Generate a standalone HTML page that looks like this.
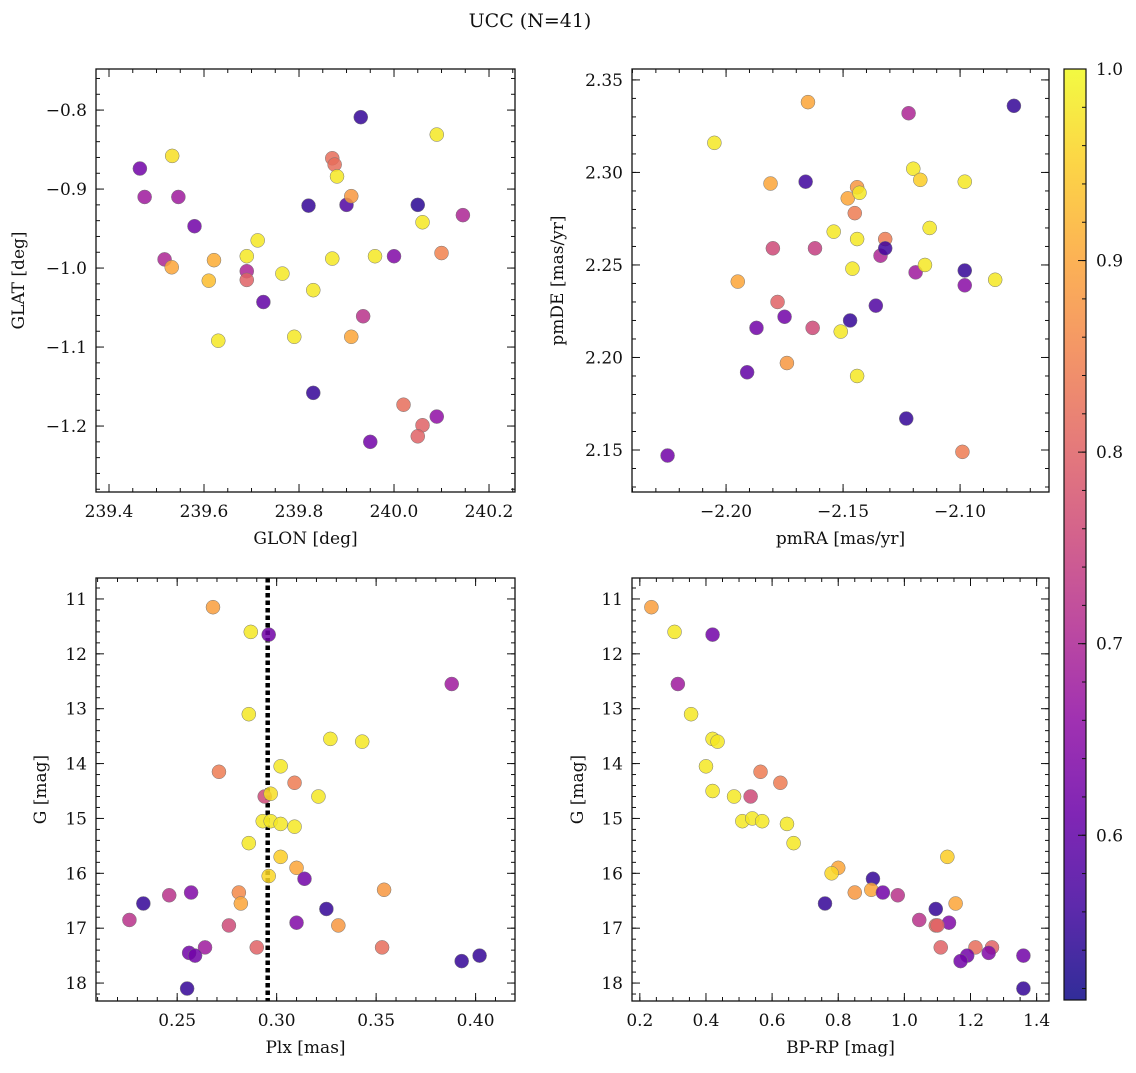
<!DOCTYPE html>
<html><head><meta charset="utf-8">
<style>
body{margin:0;background:#fff;}
svg text{font-family:"DejaVu Serif","Liberation Serif",serif;fill:#111;}
</style></head>
<body>
<svg id="fig" width="1136" height="1068" viewBox="0 0 1136 1068" xmlns="http://www.w3.org/2000/svg">
<text x="530" y="27" font-size="19" text-anchor="middle">UCC (N=41)</text>
</svg>
<script>
// Panel 1: GLON / GLAT
const glon = [239.465,239.475,239.533,239.546,239.58,239.517,239.532,239.621,239.61,239.713,239.69,239.69,239.69,239.63,239.725,239.765,239.79,239.82,239.83,239.83,239.87,239.875,239.88,239.87,239.93,239.9,239.91,239.91,239.935,239.96,239.95,240.0,240.05,240.06,240.09,240.145,240.1,240.02,240.06,240.05,240.09];
const glat = [-0.874,-0.910,-0.858,-0.910,-0.947,-0.989,-0.999,-0.990,-1.016,-0.965,-0.985,-1.004,-1.015,-1.092,-1.043,-1.007,-1.087,-0.921,-1.028,-1.158,-0.861,-0.869,-0.884,-0.988,-0.809,-0.920,-0.909,-1.087,-1.061,-0.985,-1.220,-0.985,-0.920,-0.942,-0.831,-0.933,-0.981,-1.173,-1.199,-1.213,-1.188];
const prob1 = [0.62,0.68,0.97,0.68,0.62,0.70,0.90,0.91,0.93,0.98,0.98,0.70,0.80,0.98,0.60,0.98,0.98,0.55,0.98,0.55,0.82,0.82,0.98,0.98,0.55,0.58,0.88,0.90,0.72,0.98,0.62,0.64,0.54,0.98,0.98,0.70,0.85,0.82,0.80,0.80,0.66];
// Panel 2: pmRA / pmDE
const pmra = [-2.225,-2.205,-2.195,-2.181,-2.180,-2.178,-2.175,-2.187,-2.191,-2.174,-2.163,-2.162,-2.166,-2.165,-2.154,-2.151,-2.148,-2.147,-2.146,-2.145,-2.144,-2.144,-2.143,-2.144,-2.136,-2.134,-2.132,-2.132,-2.122,-2.120,-2.119,-2.117,-2.115,-2.113,-2.123,-2.098,-2.098,-2.098,-2.099,-2.085,-2.077];
const pmde = [2.147,2.316,2.241,2.294,2.259,2.230,2.222,2.216,2.192,2.197,2.216,2.259,2.295,2.338,2.268,2.214,2.286,2.220,2.248,2.278,2.264,2.292,2.289,2.190,2.228,2.255,2.264,2.259,2.332,2.302,2.246,2.296,2.250,2.270,2.167,2.295,2.247,2.239,2.149,2.242,2.336];
const prob2 = [0.62,0.98,0.90,0.90,0.76,0.80,0.62,0.62,0.60,0.88,0.76,0.74,0.56,0.90,0.98,0.98,0.90,0.55,0.98,0.84,0.98,0.88,0.98,0.98,0.58,0.70,0.84,0.56,0.70,0.98,0.68,0.95,0.98,0.98,0.55,0.98,0.55,0.65,0.84,0.98,0.55];
// Panel 3: Plx / G
const plx = [0.268,0.287,0.296,0.388,0.286,0.327,0.343,0.302,0.271,0.309,0.294,0.297,0.321,0.293,0.297,0.302,0.309,0.286,0.302,0.310,0.296,0.314,0.354,0.257,0.246,0.281,0.282,0.233,0.325,0.226,0.310,0.331,0.276,0.264,0.290,0.353,0.256,0.259,0.393,0.402,0.255];
const gmag3 = [11.15,11.6,11.65,12.55,13.1,13.55,13.6,14.05,14.15,14.35,14.6,14.55,14.6,15.05,15.05,15.1,15.15,15.45,15.7,15.9,16.05,16.1,16.3,16.35,16.4,16.35,16.55,16.55,16.65,16.85,16.9,16.95,16.95,17.35,17.35,17.35,17.45,17.5,17.6,17.5,18.1];
const prob3 = [0.89,0.98,0.62,0.68,0.98,0.98,0.98,0.98,0.84,0.84,0.76,0.97,0.98,0.98,0.98,0.98,0.98,0.98,0.95,0.90,0.96,0.62,0.88,0.64,0.72,0.86,0.90,0.55,0.55,0.72,0.64,0.88,0.76,0.68,0.80,0.82,0.62,0.62,0.55,0.55,0.55];
// Panel 4: BP-RP / G
const bprp = [0.235,0.305,0.42,0.315,0.355,0.42,0.435,0.40,0.42,0.565,0.625,0.485,0.535,0.51,0.54,0.57,0.645,0.665,0.80,0.78,0.905,0.85,0.90,0.935,0.98,0.76,1.095,1.13,1.155,1.045,1.135,1.095,1.10,1.11,1.215,1.265,1.255,1.19,1.17,1.36,1.36];
const gmag4 = [11.15,11.6,11.65,12.55,13.1,13.55,13.6,14.05,14.5,14.15,14.35,14.6,14.6,15.05,15.0,15.05,15.1,15.45,15.9,16.0,16.1,16.35,16.3,16.35,16.4,16.55,16.65,15.7,16.55,16.85,16.9,16.95,16.95,17.35,17.35,17.35,17.45,17.5,17.6,17.5,18.1];
const prob4 = [0.89,0.98,0.62,0.68,0.98,0.98,0.98,0.98,0.98,0.84,0.84,0.98,0.76,0.98,0.98,0.98,0.98,0.98,0.90,0.96,0.55,0.88,0.90,0.62,0.72,0.55,0.55,0.95,0.90,0.72,0.64,0.82,0.80,0.80,0.82,0.80,0.64,0.62,0.62,0.62,0.55];
const cbTicks = [0.6,0.7,0.8,0.9,1.0];

const NS='http://www.w3.org/2000/svg';
const svg=document.getElementById('fig');
function el(tag,attrs,parent){const e=document.createElementNS(NS,tag);for(const k in attrs)e.setAttribute(k,attrs[k]);(parent||svg).appendChild(e);return e;}
const stops=['#0d0887','#41049d','#6a00a8','#8f0da4','#b12a90','#cc4778','#e16462','#f2844b','#fca636','#fcce25','#f0f921'];
function hex(h){return [1,3,5].map(i=>parseInt(h.substr(i,2),16));}
const VMIN=0.514,VMAX=1.0;
function plasma(v){let t=(v-VMIN)/(VMAX-VMIN);t=Math.max(0,Math.min(1,t));const f=t*10,i=Math.min(9,Math.floor(f)),r=f-i;const a=hex(stops[i]),b=hex(stops[i+1]);return 'rgb('+a.map((c,j)=>Math.round(c+(b[j]-c)*r)).join(',')+')';}
function fmt(v,d){const s=Math.abs(v).toFixed(d);return (v<-1e-9?'\u2212':'')+s;}

function panel(o){
  const {name,x0,x1,y0,y1,xmin,xmax,ymin,ymax,xs,ys,cs,xMaj,xMin,yMaj,yMin,xd,yd,xlabel,ylabel,ylabX}=o;
  const g=el('g',{});
  
  
  const X=v=>x0+(v-xmin)/(xmax-xmin)*(x1-x0);
  const Y=v=>y0+(v-ymax)/(ymin-ymax)*(y1-y0);
  const ticks=el('g',{stroke:'#111','stroke-width':1},g);
  
  
  function seq(step,a,b){const lo=Math.min(a,b),hi=Math.max(a,b);const r=[];let s=Math.ceil(lo/step-1e-6);for(let k=s;k*step<=hi+1e-9;k++)r.push(+(k*step).toFixed(6));return r;}
  seq(xMin,xmin,xmax).forEach(v=>{const x=X(v);el('line',{x1:x,x2:x,y1:y1,y2:y1-4},ticks);el('line',{x1:x,x2:x,y1:y0,y2:y0+4},ticks);});
  seq(yMin,ymin,ymax).forEach(v=>{const y=Y(v);el('line',{x1:x0,x2:x0+4,y1:y,y2:y},ticks);el('line',{x1:x1,x2:x1-4,y1:y,y2:y},ticks);});
  seq(xMaj,xmin,xmax).forEach(v=>{const x=X(v);el('line',{x1:x,x2:x,y1:y1,y2:y1-8},ticks);el('line',{x1:x,x2:x,y1:y0,y2:y0+8},ticks);
    const t=el('text',{x:x,y:y1+25,'font-size':17,'text-anchor':'middle'},g);t.textContent=fmt(v,xd);
    
    });
  seq(yMaj,ymin,ymax).forEach(v=>{const y=Y(v);el('line',{x1:x0,x2:x0+8,y1:y,y2:y},ticks);el('line',{x1:x1,x2:x1-8,y1:y,y2:y},ticks);
    const t=el('text',{x:x0-9,y:y+6,'font-size':17,'text-anchor':'end'},g);t.textContent=fmt(v,yd);
    
    });
  if(o.vline!==undefined){const l=el('line',{x1:X(o.vline),x2:X(o.vline),y1:y0,y2:y1,stroke:'#000','stroke-width':4.5,'stroke-dasharray':'4.5 3'},g);
    
    }
  xs.forEach((v,i)=>{const c=el('circle',{cx:X(v),cy:Y(ys[i]),r:7,fill:plasma(cs[i]),'fill-opacity':0.85,stroke:'#777','stroke-width':0.5},g);
    
    });
  el('rect',{x:x0,y:y0,width:x1-x0,height:y1-y0,fill:'none',stroke:'#111','stroke-width':1.3},g);
  const xl=el('text',{x:(x0+x1)/2,y:y1+52,'font-size':17,'text-anchor':'middle'},g);xl.textContent=xlabel;
  
  
  const yc=(y0+y1)/2;
  const yl=el('text',{x:ylabX,y:yc,'font-size':17,'text-anchor':'middle',transform:`rotate(-90 ${ylabX} ${yc})`},g);yl.textContent=ylabel;
  
  
}
panel({name:'panel-glon-glat',x0:96,x1:515,y0:69,y1:492,xmin:239.3726,xmax:240.2547,ymin:-1.2835,ymax:-0.748,xs:glon,ys:glat,cs:prob1,xMaj:0.2,xMin:0.05,yMaj:0.1,yMin:0.02,xd:1,yd:1,xlabel:'GLON [deg]',ylabel:'GLAT [deg]',ylabX:24});
panel({name:'panel-pm',x0:632,x1:1049,y0:69,y1:492,xmin:-2.2402,xmax:-2.062,ymin:2.1273,ymax:2.3559,xs:pmra,ys:pmde,cs:prob2,xMaj:0.05,xMin:0.01,yMaj:0.05,yMin:0.01,xd:2,yd:2,xlabel:'pmRA [mas/yr]',ylabel:'pmDE [mas/yr]',ylabX:563});
panel({name:'panel-plx-g',x0:96,x1:515,y0:578,y1:1001,xmin:0.2092,xmax:0.4198,ymin:18.327,ymax:10.618,xs:plx,ys:gmag3,cs:prob3,xMaj:0.05,xMin:0.01,yMaj:1,yMin:0.2,xd:2,yd:0,xlabel:'Plx [mas]',ylabel:'G [mag]',ylabX:46,vline:0.2955});
panel({name:'panel-cmd',x0:632,x1:1049,y0:578,y1:1001,xmin:0.1763,xmax:1.4374,ymin:18.327,ymax:10.618,xs:bprp,ys:gmag4,cs:prob4,xMaj:0.2,xMin:0.05,yMaj:1,yMin:0.2,xd:1,yd:0,xlabel:'BP-RP [mag]',ylabel:'G [mag]',ylabX:583});

// colorbar
const cb=el('g',{});


const defs=el('defs',{},svg);
const lg=el('linearGradient',{id:'cbg',x1:0,y1:1,x2:0,y2:0},defs);
stops.forEach((s,i)=>el('stop',{offset:i/10,'stop-color':s,'stop-opacity':0.85},lg));
const CB={x:1064,w:22,y0:69,y1:1000};
el('rect',{x:CB.x,y:CB.y0,width:CB.w,height:CB.y1-CB.y0,fill:'url(#cbg)'},cb);
const CY=v=>CB.y1-(v-VMIN)/(VMAX-VMIN)*(CB.y1-CB.y0);
for(let k=26;k<=50;k++){const v=k*0.02;if(v<VMIN||v>VMAX+1e-9)continue;const y=CY(v);el('line',{x1:CB.x+CB.w,x2:CB.x+CB.w-4,y1:y,y2:y,stroke:'#111'},cb);}
cbTicks.forEach(v=>{const y=CY(v);el('line',{x1:CB.x+CB.w,x2:CB.x+CB.w-8,y1:y,y2:y,stroke:'#111'},cb);
  const t=el('text',{x:CB.x+CB.w+10,y:y+6,'font-size':17},cb);t.textContent=v.toFixed(1);
  
  });
el('rect',{x:CB.x,y:CB.y0,width:CB.w,height:CB.y1-CB.y0,fill:'none',stroke:'#111','stroke-width':1.2},cb);
</script>
</body></html>
